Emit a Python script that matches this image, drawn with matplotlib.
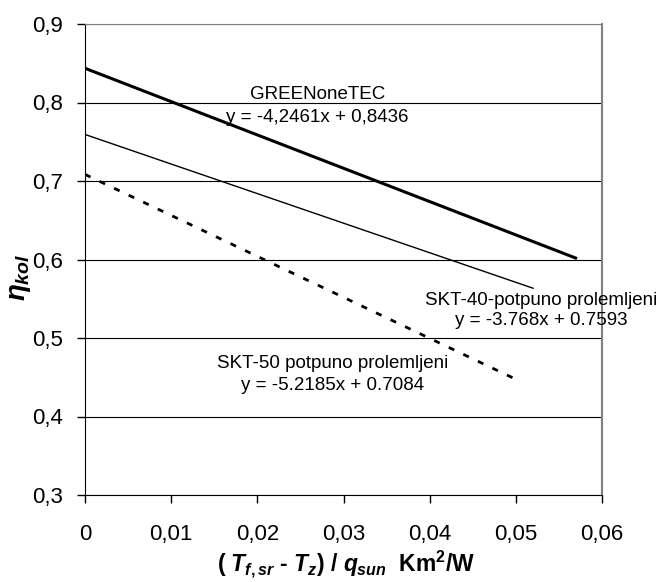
import matplotlib
matplotlib.use("Agg")
import matplotlib.pyplot as plt

plt.rcParams["font.family"] = "Liberation Sans"
plt.rcParams["mathtext.fontset"] = "custom"
plt.rcParams["mathtext.rm"] = "Liberation Sans:bold"
plt.rcParams["mathtext.it"] = "Liberation Sans:bold:italic"
plt.rcParams["mathtext.bf"] = "Liberation Sans:bold"

# Line end points
green_x = [0.0, 0.0571]
green_y = [0.8436, 0.6012]
skt40_x = [0.0, 0.0520]
skt40_y = [0.7593, 0.5634]
skt50_x = [0.0, 0.0506]
skt50_y = [0.7084, 0.4443]

x_ticks = [0, 0.01, 0.02, 0.03, 0.04, 0.05, 0.06]
x_labels = ["0", "0,01", "0,02", "0,03", "0,04", "0,05", "0,06"]
y_ticks = [0.3, 0.4, 0.5, 0.6, 0.7, 0.8, 0.9]
y_labels = ["0,3", "0,4", "0,5", "0,6", "0,7", "0,8", "0,9"]

fig = plt.figure(figsize=(6.63, 5.82), dpi=100)
ax = fig.add_axes([85 / 663, 1 - 495 / 582, 517 / 663, 471 / 582])

ax.plot(green_x, green_y, color="black", lw=2.2, solid_capstyle="butt")
ax.plot(skt40_x, skt40_y, color="black", lw=1.0)
ax.plot(skt50_x, skt50_y, color="black", lw=2.0, dashes=(2.2, 3.6))

ax.set_xlim(0, 0.06)
ax.set_ylim(0.3, 0.9)
ax.set_xticks(x_ticks)
ax.set_xticklabels(x_labels)
ax.set_yticks(y_ticks)
ax.set_yticklabels(y_labels)
ax.tick_params(labelsize=16, length=6, width=1, direction="out")
ax.tick_params(axis="x", pad=15)
ax.tick_params(axis="y", pad=10)
ax.yaxis.grid(True, color="black", lw=0.8)
ax.set_axisbelow(True)

ax.spines["top"].set_color("#808080")
ax.spines["right"].set_color("#808080")
ax.spines["right"].set_linewidth(1.5)

# Trendline labels
fs = 13.5
ax.text(0.0270, 0.8096, "GREENoneTEC", fontsize=fs, ha="center", va="center")
ax.text(0.0270, 0.7815, "y = -4,2461x + 0,8436", fontsize=fs, ha="center", va="center")
ax.text(0.0529, 0.5484, "SKT-40-potpuno prolemljeni", fontsize=fs, ha="center", va="center")
ax.text(0.0529, 0.5217, "y = -3.768x + 0.7593", fontsize=fs, ha="center", va="center")
ax.text(0.0287, 0.4680, "SKT-50 potpuno prolemljeni", fontsize=fs, ha="center", va="center")
ax.text(0.0287, 0.4400, "y = -5.2185x + 0.7084", fontsize=fs, ha="center", va="center")

ax.set_xlabel(r"( $T_{f,sr}$ - $T_{z}$) / $q_{sun}$  Km$^2$/W",
              fontsize=16.5, fontweight="bold")
ax.xaxis.set_label_coords(0.505, -(549 - 495) / 471)
ax.set_ylabel(r"$\eta_{kol}$", fontsize=20)
ax.yaxis.set_label_coords(-(85 - 33) / 517, (495 - 277) / 471)

fig.savefig("out.png", dpi=100)
